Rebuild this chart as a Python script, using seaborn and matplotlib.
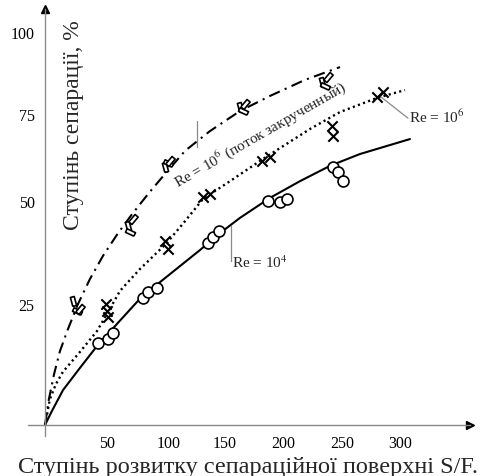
import numpy as np
import pandas as pd
import matplotlib
matplotlib.use("Agg")
import matplotlib.pyplot as plt
import seaborn as sns

# ---------------- data ----------------
x_ticks = [0, 50, 100, 150, 200, 250, 300]
x_ticklabels = ["", "50", "100", "150", "200", "250", "300"]
y_ticks = [0, 25, 50, 75, 100]
y_ticklabels = ["", "25", "50", "75", "100"]

# Re = 10^4 (circles, solid curve)
circ_x = [42.7, 50.8, 54.8, 79.0, 83.1, 90.3, 134.8, 139.3, 144.6, 187.1, 197.4, 203.4, 242.4, 246.6, 250.8]
circ_y = [16.9, 17.8, 19.0, 26.5, 27.9, 28.9, 39.8, 41.3, 42.7, 50.0, 49.7, 50.6, 59.8, 58.3, 55.7]
sol_x = [0, 5.6, 14.5, 28.2, 41.9, 58.1, 74.2, 92.7, 109.8, 127.7, 145.5, 162.9, 188.8, 214.4, 239.8, 265.5, 308.6]
sol_y = [0, 2.9, 7.2, 11.8, 16.3, 20.9, 25.5, 30.3, 34.2, 38.1, 42.2, 45.9, 50.9, 55.7, 60.1, 63.5, 67.8]

# Re = 10^6 (crosses, dotted curve)
cross_x = [49, 50, 51, 97, 99, 130.4, 136.6, 181.9, 188.8, 241.5, 242.5, 280.2, 285.3]
cross_y = [25.0, 23.5, 22.3, 40.3, 38.3, 51.1, 52.0, 61.5, 62.6, 71.6, 68.7, 80.2, 81.7]
dot_x = [0, 4.0, 8.9, 14.5, 28.2, 41.9, 50.8, 60.5, 76.6, 97.6, 114.3, 130.4, 154.3, 182.8, 222.9, 248.3, 280.2, 304.3]
dot_y = [0, 5.4, 8.5, 11.0, 15.1, 19.4, 23.3, 28.2, 33.5, 39.6, 45.1, 50.6, 55.7, 62.1, 70.7, 75.6, 79.9, 82.3]

# Re = 10^6 swirled flow (rectangles, dash-dot curve)
rect_x = [22.6, 25.5, 28.2, 66.9, 68.5, 71.0, 96.8, 99.5, 100.9, 162.9, 165.5, 167.2, 233.0, 235.5, 238.1]
rect_y = [25.7, 23.6, 24.0, 43.9, 42.5, 45.6, 59.8, 61.0, 61.5, 77.1, 75.8, 78.0, 84.8, 83.5, 86.3]
dd_x = [0, 3.2, 7.3, 12.1, 18.5, 26.6, 36.3, 46.8, 58.9, 70.2, 83.1, 96.8, 114.3, 136.6, 162.9, 188.8, 218.6, 248.3]
dd_y = [0, 5.4, 10.5, 15.3, 19.8, 25.0, 31.1, 36.7, 42.2, 46.8, 52.0, 57.8, 64.4, 70.1, 75.9, 80.5, 85.4, 89.3]

xlabel = "Ступінь розвитку сепараційної поверхні S/F."
ylabel = "Ступінь сепарації, %"
lab_swirl = "Re = 10$^6$ (поток закрученный)"
lab_re6 = "Re = 10$^6$"
lab_re4 = "Re = 10$^4$"

# ---------------- style ----------------
sns.set_theme(style="white")
plt.rcParams["font.family"] = ["Liberation Serif", "DejaVu Serif"]
plt.rcParams["mathtext.fontset"] = "stix"

W, H = 497, 477
fig = plt.figure(figsize=(W / 100, H / 100), dpi=100)

# non-uniform axis spacing as drawn in the original (pixel offsets of the ticks)
x_px = [0, 62, 124, 180, 238, 297, 355]
y_px = [0, 121, 224, 311, 393]


def make_scale(vals, pix):
    vals = np.asarray(vals, float)
    pix = np.asarray(pix, float)

    def _map(v, a, b):
        v = np.asarray(v, float)
        out = np.interp(v, a, b)
        s0 = (b[1] - b[0]) / (a[1] - a[0])
        s1 = (b[-1] - b[-2]) / (a[-1] - a[-2])
        out = np.where(v < a[0], b[0] + (v - a[0]) * s0, out)
        out = np.where(v > a[-1], b[-1] + (v - a[-1]) * s1, out)
        return out

    return (lambda v: _map(v, vals, pix)), (lambda p: _map(p, pix, vals))


fx, ix = make_scale(x_ticks, x_px)
fy, iy = make_scale(y_ticks, y_px)

ax = fig.add_axes([28 / W, 1 - 437 / H, 442 / W, 427 / H])
ax.set_xscale("function", functions=(fx, ix))
ax.set_yscale("function", functions=(fy, iy))
ax.set_xlim(float(ix(-17)), float(ix(425)))
ax.set_ylim(float(iy(-11)), float(iy(416)))
ax.patch.set_alpha(0)

# curves
sns.lineplot(x=sol_x, y=sol_y, ax=ax, sort=False, estimator=None,
             color="black", lw=1.5)
sns.lineplot(x=dot_x, y=dot_y, ax=ax, sort=False, estimator=None,
             color="black", lw=1.7, dashes=False)
ax.lines[-1].set_dashes((0.9, 1.4))
sns.lineplot(x=dd_x, y=dd_y, ax=ax, sort=False, estimator=None,
             color="black", lw=1.5)
ax.lines[-1].set_dashes((5.5, 2.6, 1.0, 2.6))

# markers
sns.scatterplot(x=circ_x, y=circ_y, ax=ax, marker="o", s=62,
                facecolor="white", edgecolor="black", linewidth=1.2, zorder=5)
cross_df = pd.DataFrame({"x": cross_x, "y": cross_y})
even = cross_df.index % 2 == 0
sns.scatterplot(data=cross_df[even], x="x", y="y", ax=ax, marker="x", s=55,
                color="black", linewidth=1.5, zorder=5)
sns.scatterplot(data=cross_df[~even], x="x", y="y", ax=ax, marker="x", s=55,
                color="black", linewidth=1.5, zorder=5)


def rect_marker(angle_deg):
    base = np.array([[-0.42, -1], [0.42, -1], [0.42, 1], [-0.42, 1], [-0.42, -1]])
    a = np.deg2rad(angle_deg)
    R = np.array([[np.cos(a), -np.sin(a)], [np.sin(a), np.cos(a)]])
    return [tuple(p) for p in base @ R.T]


rect_df = pd.DataFrame({"x": rect_x, "y": rect_y})
for k, ang in enumerate([15, 65, -40]):
    sub = rect_df[rect_df.index % 3 == k]
    sns.scatterplot(data=sub, x="x", y="y", ax=ax, marker=rect_marker(ang), s=52,
                    facecolor="white", edgecolor="black", linewidth=1.2, zorder=5)

# axes styling
for s in ["top", "right"]:
    ax.spines[s].set_visible(False)
ax.spines["left"].set_position(("data", 0))
ax.spines["bottom"].set_position(("data", 0))
for s in ["left", "bottom"]:
    ax.spines[s].set_color("#8a8a8a")
    ax.spines[s].set_linewidth(1.0)
ax.set_xticks(x_ticks)
ax.set_xticklabels(x_ticklabels)
ax.set_yticks(y_ticks)
ax.set_yticklabels(y_ticklabels)
ax.minorticks_off()
ax.tick_params(axis="both", direction="inout", length=11, width=1.0,
               color="#8a8a8a", labelsize=11.5, labelcolor="black")
ax.tick_params(axis="x", pad=2)
ax.tick_params(axis="y", pad=2)
ax.set_xlabel("")
ax.set_ylabel("")
ax.grid(False)

# arrow heads
ax.plot(1, 0, ">", color="black", ms=6, transform=ax.get_yaxis_transform(), clip_on=False)
ax.plot(0, 1, "^", color="black", ms=6, transform=ax.get_xaxis_transform(), clip_on=False)

# annotations
lc = "#8a8a8a"
ax.plot([125, 125], [65.5, 73.0], color=lc, lw=0.9)
ax.text(180, 69.3, lab_swirl, rotation=30, rotation_mode="anchor",
        ha="center", va="center", fontsize=11)
ax.plot([283.6, 306.9], [80.2, 73.8], color=lc, lw=0.9)
ax.text(307.5, 74.3, lab_re6, ha="left", va="center", fontsize=11)
ax.plot([155.2, 155.2], [43.9, 35.4], color=lc, lw=0.9)
ax.text(156, 35.2, lab_re4, ha="left", va="center", fontsize=11)

fig.text(73 / W, 1 - 125 / H, ylabel, rotation=90, ha="center", va="center", fontsize=17)
fig.text(0.5, 1 - 473 / H, xlabel, ha="center", va="baseline", fontsize=17.5)

fig.savefig("out.png", dpi=100)
